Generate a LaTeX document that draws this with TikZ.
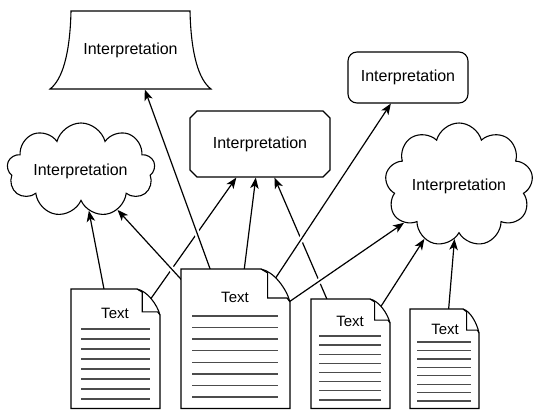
\documentclass[tikz,border=0pt]{standalone}
\usepackage{fontspec}
\setmainfont{Liberation Sans}
\usetikzlibrary{shapes.symbols,arrows.meta,backgrounds,calc}
\newcommand\drawdoc[6]{%
  \draw[fill=white] (#1,#2) -- ({#3-#5},#2)
    .. controls ({#3-#5*0.55},{#2+#6*0.08}) and ({#3-#5*0.12},{#2+#6*0.6}) .. (#3,{#2+#6})
    -- (#3,#4) -- (#1,#4) -- cycle;
  \draw ({#3-#5},#2) -- ({#3-#5*0.77},{#2+#6*0.12}) -- ({#3-#5*0.77},{#2+#6*0.88}) -- ({#3-#5*0.1},{#2+#6*0.88}) -- (#3,{#2+#6});
}
\begin{document}
\begin{tikzpicture}[x=1pt,y=-1pt,line width=1.1pt,
  interp/.style={font=\fontsize{16}{19}\selectfont, inner sep=0pt},
  doctext/.style={font=\fontsize{15}{18}\selectfont, inner sep=0pt},
  docline/.style={draw=black!70, line width=1.3pt},
  docbox/.style={inner sep=0pt, draw=none},
  puff/.style={cloud, draw, fill=white, cloud puffs=9, cloud puff arc=150, inner sep=0pt},
  conn/.style={line width=1.2pt, -{Stealth[length=11pt,width=8.5pt,inset=3pt]}},
  over/.style={conn, preaction={draw=white, line width=5.5pt, -}},
]
\useasboundingbox (0,0) rectangle (540,410);

% --- interpretations
\draw[fill=white] (71,11) -- (190,11) .. controls (191,55) and (199,80) .. (211,89)
  -- (50,89) .. controls (62,80) and (70,55) .. (71,11) -- cycle;
\node[interp, minimum width=161pt, minimum height=78pt] (t1) at (130.5,50) {Interpretation};

\draw[fill=white] (197,111) -- (323,111) -- (330,118) -- (330,170) -- (323,177)
  -- (197,177) -- (190,170) -- (190,118) -- cycle;
\node[interp, minimum width=140pt, minimum height=66pt] (m) at (260,144) {Interpretation};

\node[interp, draw, fill=white, rounded corners=9pt, minimum width=120pt, minimum height=51pt] (r1) at (408,77.5) {Interpretation};

\node[puff, minimum width=148pt, minimum height=94pt] (c1) at (81,170) {};
\node[interp] at (80.5,171) {Interpretation};
\node[puff, minimum width=148pt, minimum height=124pt] (c2) at (459,185) {};
\node[interp] at (459,186) {Interpretation};

% --- documents
\drawdoc{71}{289}{160}{408.5}{23}{26}
\node[docbox, minimum width=89pt, minimum height=119.5pt] (d1) at (115.5,348.75) {};
\node[doctext] at (115,313) {Text};
\foreach \i in {0,...,7} \draw[docline] (81,{329+\i*10}) -- (150,{329+\i*10});

\drawdoc{181}{269}{290}{408.5}{29}{33}
\node[docbox, minimum width=109pt, minimum height=139.5pt] (d2) at (235.5,338.75) {};
\node[doctext] at (235,297) {Text};
\foreach \i in {0,...,7} \draw[docline] (192,{316+\i*11.57}) -- (278,{316+\i*11.57});

\drawdoc{311}{299}{390}{408.5}{20}{24}
\node[docbox, minimum width=79pt, minimum height=109.5pt] (d3) at (350.5,353.75) {};
\node[doctext] at (350,321) {Text};
\foreach \i in {0,...,7} \draw[docline] (319,{336+\i*9.14}) -- (381,{336+\i*9.14});

\drawdoc{410}{309}{479}{408.5}{16}{24}
\node[docbox, minimum width=69pt, minimum height=99.5pt] (d4) at (444.5,358.75) {};
\node[doctext] at (445,329) {Text};
\foreach \i in {0,...,7} \draw[docline] (417,{342+\i*8.43}) -- (471,{342+\i*8.43});

% --- connectors
\begin{pgfonlayer}{background}
\draw[conn] (d1.center) -- (m);
\draw[conn] (d3.center) -- (m);
\draw[over] (d1.center) -- (c1);
\draw[over] (d2.center) -- (c1);
\draw[over] (d2.center) -- (t1);
\draw[over] (d2.center) -- (m);
\draw[over] (d2.center) -- (r1);
\draw[over] (d2.center) -- (c2);
\draw[over] (d3.center) -- (c2);
\draw[over] (d4.center) -- (c2);
\end{pgfonlayer}
\end{tikzpicture}
\end{document}
